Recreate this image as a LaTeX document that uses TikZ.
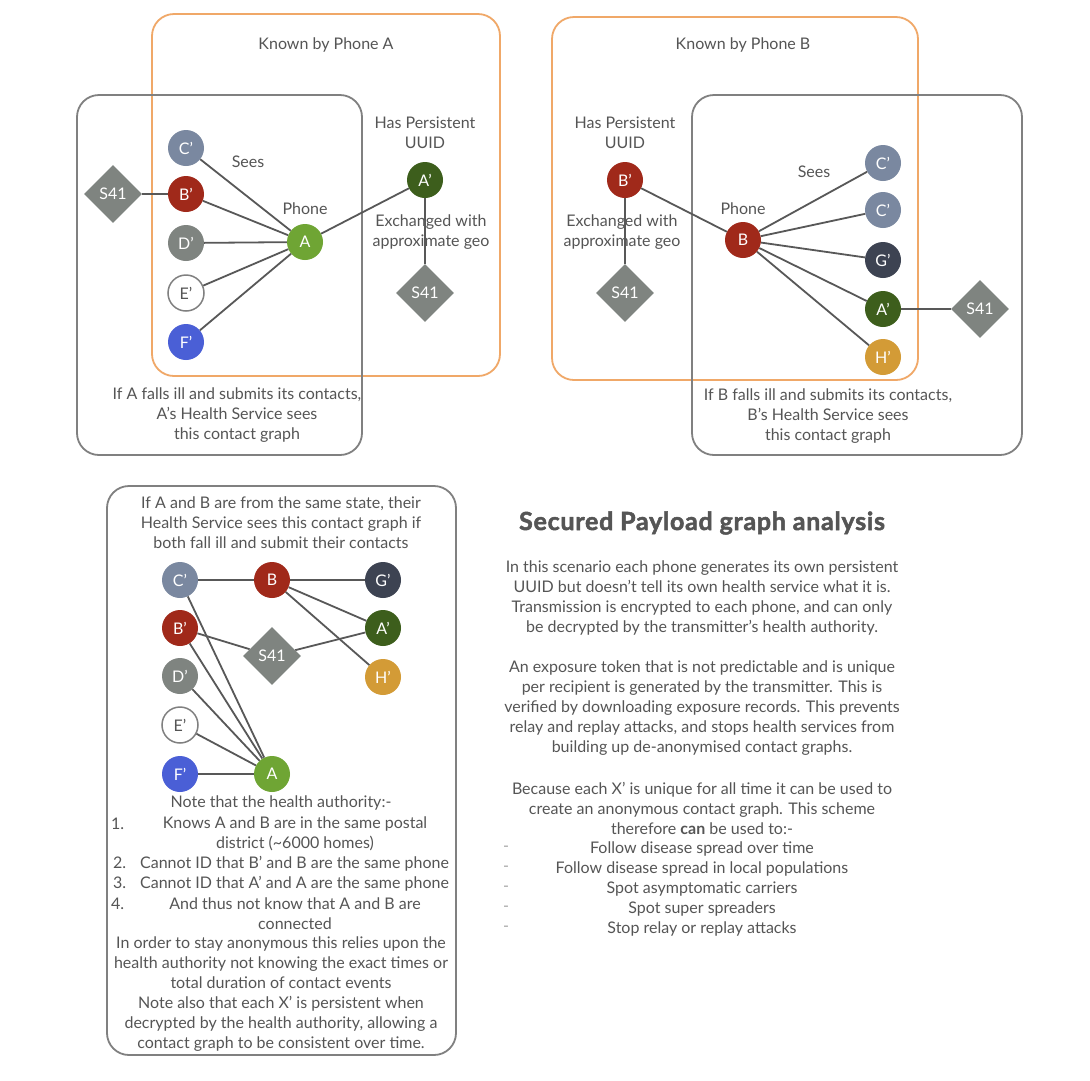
\documentclass[tikz,border=0pt]{standalone}
\usepackage{fontspec}
\setmainfont{Lato}
\usetikzlibrary{shapes.geometric}
\definecolor{txt}{HTML}{555555}
\definecolor{edgec}{HTML}{585858}
\definecolor{boxg}{HTML}{808080}
\definecolor{boxo}{HTML}{F0A868}
\definecolor{cC}{HTML}{7A88A0}
\definecolor{cB}{HTML}{A0291A}
\definecolor{cD}{HTML}{7F8480}
\definecolor{cF}{HTML}{4A5FD6}
\definecolor{cA}{HTML}{6FA534}
\definecolor{cAp}{HTML}{3D5E1C}
\definecolor{cG}{HTML}{3D4352}
\definecolor{cH}{HTML}{D39B36}
\definecolor{cS}{HTML}{7F8480}
\tikzset{
  dot/.style={circle,minimum size=36pt,inner sep=0pt,text=white,font=\fontsize{16}{16}\selectfont},
  sfour/.style={diamond,fill=cS,minimum width=58pt,minimum height=58pt,inner sep=0pt,text=white,font=\fontsize{16}{16}\selectfont},
  lbl/.style={text=txt,font=\fontsize{16}{20}\selectfont,align=center,inner sep=0pt},
  edge/.style={draw=edgec,line width=1.8pt},
  gbox/.style={draw=boxg,line width=1.8pt,rounded corners=22pt},
  obox/.style={draw=boxo,line width=1.8pt,rounded corners=22pt},
}
\begin{document}
\begin{tikzpicture}[x=1pt,y=-1pt]
\useasboundingbox (0,0) rectangle (1090,1080);
\fill[white] (0,0) rectangle (1090,1080);
% ---------- boxes ----------
\draw[obox] (152,14) rectangle (500,376);
\draw[gbox] (77,95) rectangle (362,455);
\draw[obox] (552,17) rectangle (918,380);
\draw[gbox] (692,95) rectangle (1022,455);
\draw[gbox] (107,486) rectangle (456,1055);
% ---------- panel A ----------
\node[lbl] (tA) at (326,45) {Known by Phone A};
\node[dot,fill=cC] (aC) at (186,148) {C'};
\node[dot,fill=cB] (aB) at (186,194) {B'};
\node[dot,fill=cD] (aD) at (186,243) {D'};
\node[dot,fill=white,draw=boxg,line width=1.5pt,text=txt] (aE) at (186,293) {E'};
\node[dot,fill=cF] (aF) at (186,342) {F'};
\node[dot,fill=cA] (aA) at (305,242) {A};
\node[sfour] (aS) at (113,194) {S41};
\node[dot,fill=cAp] (aAp) at (425,180) {A'};
\node[sfour] (aS2) at (425,293) {S41};
\node[lbl] (aSees) at (248,162) {Sees};
\node[lbl] (aPh) at (305,209) {Phone};
\node[lbl] (aUU) at (425,133) {Has Persistent\\UUID};
\node[lbl] (aEx) at (431,232) {Exchanged with\\approximate geo};
\node[lbl] (aIll) at (237,415) {If A falls ill and submits its contacts,\\A's Health Service sees\\this contact graph};
\draw[edge] (aS) -- (aB);
\foreach \n in {aC,aB,aD,aE,aF} \draw[edge] (\n) -- (aA);
\draw[edge] (aA) -- (aAp);
\draw[edge] (aAp) -- (aS2);
% ---------- panel B ----------
\node[lbl] (tB) at (743,45) {Known by Phone B};
\node[dot,fill=cB] (bBp) at (625,180) {B'};
\node[sfour] (bS) at (625,293) {S41};
\node[dot,fill=cB] (bB) at (743,240) {B};
\node[dot,fill=cC] (bC1) at (883,163) {C'};
\node[dot,fill=cC] (bC2) at (883,210) {C'};
\node[dot,fill=cG] (bG) at (883,260) {G'};
\node[dot,fill=cAp] (bA) at (883,309) {A'};
\node[dot,fill=cH] (bH) at (883,357) {H'};
\node[sfour] (bS2) at (980,309) {S41};
\node[lbl] (bUU) at (625,133) {Has Persistent\\UUID};
\node[lbl] (bEx) at (622,232) {Exchanged with\\approximate geo};
\node[lbl] (bPh) at (743,209) {Phone};
\node[lbl] (bSees) at (814,172) {Sees};
\node[lbl] (bIll) at (828,416) {If B falls ill and submits its contacts,\\B's Health Service sees\\this contact graph};
\draw[edge] (bBp) -- (bS);
\draw[edge] (bBp) -- (bB);
\foreach \n in {bC1,bC2,bG,bA,bH} \draw[edge] (bB) -- (\n);
\draw[edge] (bA) -- (bS2);
% ---------- combined graph ----------
\node[lbl] (cTop) at (281,523) {If A and B are from the same state, their\\Health Service sees this contact graph if\\both fall ill and submit their contacts};
\node[dot,fill=cC] (cC) at (180,580) {C'};
\node[dot,fill=cB] (cB) at (272,580) {B};
\node[dot,fill=cG] (cG) at (383,580) {G'};
\node[dot,fill=cB] (cBp) at (180,628) {B'};
\node[dot,fill=cAp] (cAp) at (383,628) {A'};
\node[sfour] (cS) at (272,656) {S41};
\node[dot,fill=cD] (cD) at (180,676) {D'};
\node[dot,fill=cH] (cH) at (383,677) {H'};
\node[dot,fill=white,draw=boxg,line width=1.5pt,text=txt] (cE) at (180,725) {E'};
\node[dot,fill=cF] (cF) at (180,774) {F'};
\node[dot,fill=cA] (cA) at (272,774) {A};
\draw[edge] (cC) -- (cB);
\draw[edge] (cB) -- (cG);
\draw[edge] (cB) -- (cAp);
\draw[edge] (cB) -- (cH);
\draw[edge] (cBp) -- (cS);
\draw[edge] (cS) -- (cAp);
\foreach \n in {cC,cBp,cD,cE,cF} \draw[edge] (\n) -- (cA);
% notes
\node[lbl] (n0) at (281,803) {Note that the health authority:-};
\node[lbl,anchor=west] (n1) at (111,824) {1.};
\node[lbl] (n1t) at (295,834) {Knows A and B are in the same postal\\district (\textasciitilde6000 homes)};
\node[lbl] (n2) at (281,864) {2.\hspace{14pt}Cannot ID that B' and B are the same phone};
\node[lbl] (n3) at (281,884) {3.\hspace{14pt}Cannot ID that A' and A are the same phone};
\node[lbl,anchor=west] (n4) at (111,904) {4.};
\node[lbl] (n4t) at (295,914) {And thus not know that A and B are\\connected};
\node[lbl] (n5) at (281,994) {In order to stay anonymous this relies upon the\\health authority not knowing the exact times or\\total duration of contact events\\Note also that each X' is persistent when\\decrypted by the health authority, allowing a\\contact graph to be consistent over time.};
% ---------- right text ----------
\node[lbl,font=\fontsize{25}{28}\selectfont\bfseries\addfontfeature{FakeBold=2,LetterSpace=3}] (title) at (702,523) {Secured Payload graph analysis};
\node[lbl] (p1) at (702,598) {In this scenario each phone generates its own persistent\\UUID but doesn't tell its own health service what it is.\\Transmission is encrypted to each phone, and can only\\be decrypted by the transmitter's health authority.};
\node[lbl] (p2) at (702,708) {An exposure token that is not predictable and is unique\\per recipient is generated by the transmitter. This is\\verified by downloading exposure records. This prevents\\relay and replay attacks, and stops health services from\\building up de-anonymised contact graphs.};
\node[lbl] (p3) at (702,808) {Because each X' is unique for all time it can be used to\\create an anonymous contact graph. This scheme\\therefore \textbf{can} be used to:-};
\node[lbl] (b1) at (702,849) {Follow disease spread over time};
\node[lbl] (b2) at (702,869) {Follow disease spread in local populations};
\node[lbl] (b3) at (702,889) {Spot asymptomatic carriers};
\node[lbl] (b4) at (702,909) {Spot super spreaders};
\node[lbl] (b5) at (702,929) {Stop relay or replay attacks};
\foreach \yy/\nm in {849/d1,869/d2,889/d3,909/d4,929/d5}
  \node[lbl,text=boxg!70] (\nm) at (506,\yy) {-};
\end{tikzpicture}
\end{document}
